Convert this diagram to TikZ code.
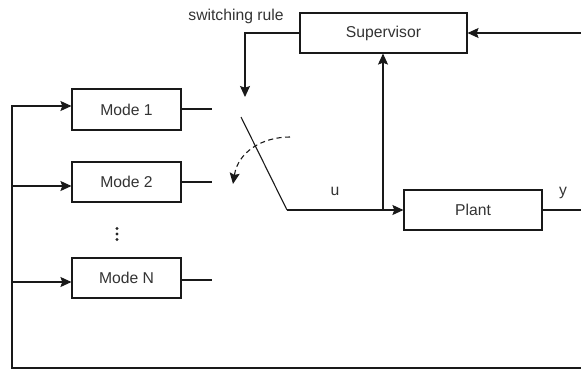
\documentclass[tikz,border=0pt]{standalone}
\usepackage{fontspec}
\setmainfont{Liberation Sans}
\usetikzlibrary{arrows.meta}
\begin{document}
\begin{tikzpicture}[x=1pt,y=-1pt,
  blk/.style={draw=black!90, line width=1.1pt, minimum height=40pt, inner sep=0pt, font=\fontsize{15.7}{18}\selectfont, text=black!80},
  wire/.style={line width=1.1pt, draw=black!90},
  tip/.style={-{Stealth[length=11pt,width=10pt,inset=1.8pt]}},
  arr/.style={wire, tip},
  lbl/.style={font=\fontsize{15.7}{18}\selectfont, text=black!80, inner sep=0pt, anchor=base}]
\useasboundingbox (0,0) rectangle (581,370);
% blocks
\node[blk, minimum width=167pt] (sup) at (383.5,33) {Supervisor};
\node[blk, minimum width=109pt, minimum height=41pt] (m1) at (126.5,109.5) {Mode 1};
\node[blk, minimum width=109pt] (m2) at (126.5,182) {Mode 2};
\node[blk, minimum width=109pt] (mn) at (126.5,278) {Mode N};
\node[blk, minimum width=138pt] (plant) at (473,210) {Plant};
% labels
\node[lbl] (sw) at (236,20) {switching rule};
\node[lbl] (u) at (335,195) {u};
\node[lbl] (y) at (563,195) {y};
% dots
\node[circle, fill=black!85, inner sep=0pt, minimum size=3.3pt] (d1) at (117,228.5) {};
\node[circle, fill=black!85, inner sep=0pt, minimum size=3.3pt] (d2) at (117,234) {};
\node[circle, fill=black!85, inner sep=0pt, minimum size=3.3pt] (d3) at (117,239.5) {};
% coordinates
\coordinate (supin) at (581,33);
\coordinate (swdown) at (245,97);
\coordinate (o1) at (212,109);
\coordinate (o2) at (212,182);
\coordinate (on) at (212,280);
\coordinate (swa) at (241,117);
\coordinate (swb) at (287,210);
\coordinate (tap) at (383,210);
\coordinate (yout) at (581,210);
\coordinate (fbr) at (581,368);
\coordinate (fbl) at (12,368);
\coordinate (f1) at (12,106);
\coordinate (f2) at (12,186);
\coordinate (fn) at (12,282);
\coordinate (dsa) at (290,137);
\coordinate (dsb) at (233,184);
% connectors
\draw[arr] (supin) -- (sup.east);
\draw[arr] (sup.west) -| (swdown);
\draw[wire] (m1.east |- o1) -- (o1);
\draw[wire] (m2.east) -- (o2);
\draw[wire] (mn.east |- on) -- (on);
\draw[wire] (swa) -- (swb);
\draw[arr] (swb) -- (plant.west);
\draw[arr] (tap) -- (sup.south -| tap);
\draw[wire] (plant.east) -- (yout);
\draw[arr] (fbr) -- (fbl) -- (f1) -- (m1.west |- f1);
\draw[arr] (f2) -- (m2.west |- f2);
\draw[arr] (fn) -- (mn.west |- fn);
\draw[wire, dash pattern=on 5pt off 3.5pt, tip] (dsa) .. controls (262,137) and (238,152) .. (dsb);
\end{tikzpicture}
\end{document}
